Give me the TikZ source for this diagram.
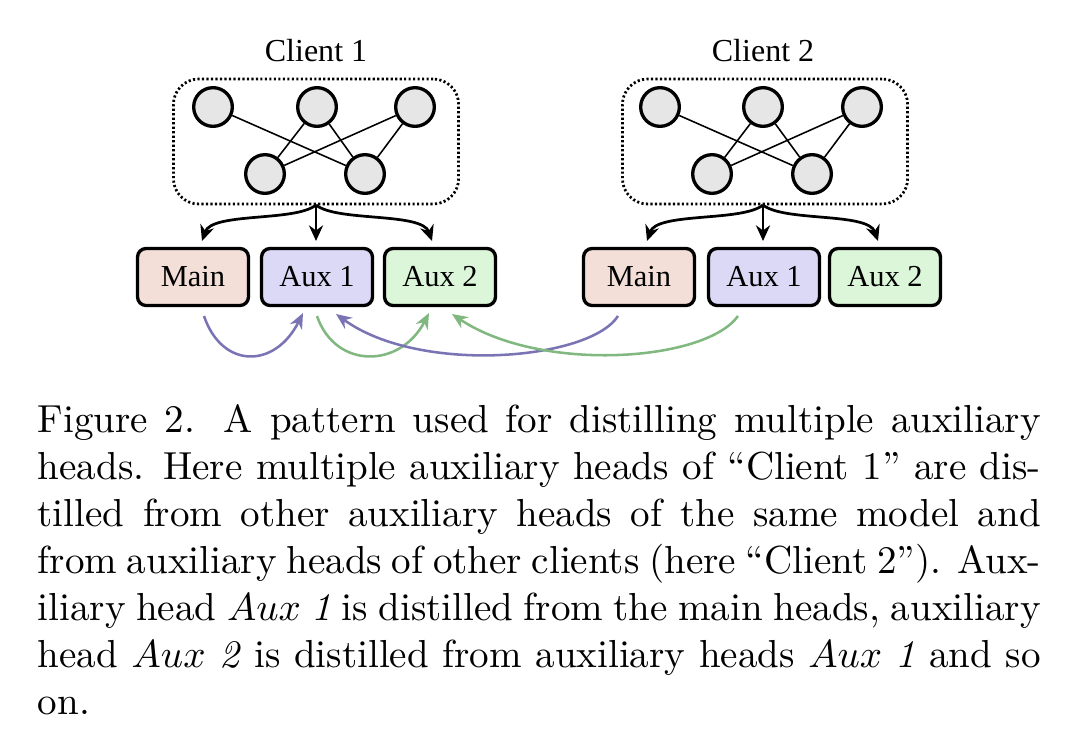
\documentclass[tikz,border=0pt]{standalone}
\usepackage{fontspec}
\newfontfamily\diagfont{Liberation Serif}
\usetikzlibrary{arrows.meta}
\definecolor{mainfill}{HTML}{F3DFD8}
\definecolor{auxafill}{HTML}{DCD9F6}
\definecolor{auxbfill}{HTML}{DCF6D9}
\definecolor{purpline}{HTML}{7A74B4}
\definecolor{greenline}{HTML}{80B880}
\definecolor{neuronfill}{HTML}{E6E6E6}
\tikzset{
  neuron/.style={circle, draw=black, line width=0.85pt, fill=neuronfill, minimum size=9.9pt, inner sep=0pt},
  synapse/.style={line width=0.4pt, black},
  group/.style={draw=black, line width=0.7pt, dash pattern=on 0.55pt off 0.6pt, rounded corners=6.5pt, minimum width=73pt, minimum height=32pt, inner sep=0pt},
  head/.style={draw=black, line width=0.85pt, rounded corners=2.2pt, minimum width=28.4pt, minimum height=14.6pt, inner sep=0pt, font=\diagfont\fontsize{7.8}{9}\selectfont},
  clientlabel/.style={anchor=base, inner sep=0pt, font=\diagfont\fontsize{8.2}{9.8}\selectfont},
  feed/.style={line width=0.7pt, -{Stealth[length=4pt,width=3.6pt]}},
  distP/.style={line width=0.65pt, purpline, -{Stealth[length=4pt,width=3.4pt]}},
  distG/.style={line width=0.65pt, greenline, -{Stealth[length=4pt,width=3.4pt]}},
  capline/.style={anchor=base west, inner sep=0pt, font=\fontsize{10}{12}\selectfont}
}
\newlength{\capw}
\setlength{\capw}{256.8pt}
\begin{document}
\begin{tikzpicture}[x=0.256pt, y=-0.256pt]
\useasboundingbox (0,0) rectangle (1080,754);

% ---------- Client 1 ----------
\node[clientlabel] (c1lab) at (316,61) {Client 1};
\node[group] (g1) at (316,141.5) {};
\node[neuron] (a1) at (213,107) {};
\node[neuron] (a2) at (317,107) {};
\node[neuron] (a3) at (415,107) {};
\node[neuron] (b1) at (265,174) {};
\node[neuron] (b2) at (365,174) {};
\draw[synapse] (a1) -- (b2);
\draw[synapse] (a2) -- (b1);
\draw[synapse] (a2) -- (b2);
\draw[synapse] (a3) -- (b1);
\draw[synapse] (a3) -- (b2);
\node[head, fill=mainfill] (m1) at (193,277) {Main};
\node[head, fill=auxafill] (x1) at (317,277) {Aux 1};
\node[head, fill=auxbfill] (y1) at (440,277) {Aux 2};
\coordinate (s1) at (316,205);
\coordinate (t1m) at (202,241);
\coordinate (t1x) at (316,241);
\coordinate (t1y) at (432,241);
\draw[feed] (s1) .. controls (295,222) and (212,212) .. (t1m);
\draw[feed] (s1) -- (t1x);
\draw[feed] (s1) .. controls (337,222) and (422,212) .. (t1y);

% ---------- Client 2 ----------
\node[clientlabel] (c2lab) at (763,61) {Client 2};
\node[group] (g2) at (765,141.5) {};
\node[neuron] (d1) at (660,107) {};
\node[neuron] (d2) at (763,107) {};
\node[neuron] (d3) at (862,107) {};
\node[neuron] (e1) at (712,174) {};
\node[neuron] (e2) at (812,174) {};
\draw[synapse] (d1) -- (e2);
\draw[synapse] (d2) -- (e1);
\draw[synapse] (d2) -- (e2);
\draw[synapse] (d3) -- (e1);
\draw[synapse] (d3) -- (e2);
\node[head, fill=mainfill] (m2) at (639,277) {Main};
\node[head, fill=auxafill] (x2) at (764,277) {Aux 1};
\node[head, fill=auxbfill] (y2) at (885,277) {Aux 2};
\coordinate (s2) at (763,205);
\coordinate (t2m) at (647,241);
\coordinate (t2x) at (763,241);
\coordinate (t2y) at (878,241);
\draw[feed] (s2) .. controls (742,222) and (657,212) .. (t2m);
\draw[feed] (s2) -- (t2x);
\draw[feed] (s2) .. controls (784,222) and (868,212) .. (t2y);

% ---------- distillation arrows ----------
\coordinate (p1s) at (204,316);
\coordinate (p1e) at (303,313);
\coordinate (g1s) at (317,316);
\coordinate (g1e) at (429,313);
\coordinate (p2s) at (618,316);
\coordinate (p2e) at (336,314);
\coordinate (g2s) at (738,316);
\coordinate (g2e) at (452,314);
\draw[distP] (p1s) .. controls (222,369) and (275,369) .. (p1e);
\draw[distG] (g1s) .. controls (335,369) and (400,369) .. (g1e);
\draw[distP] (p2s) .. controls (590,360) and (420,375) .. (p2e);
\draw[distG] (g2s) .. controls (705,362) and (540,373) .. (g2e);

% ---------- caption ----------
\node[capline] (cap1) at (37,432) {\makebox[\capw][s]{Figure 2. A pattern used for distilling multiple auxiliary}};
\node[capline] (cap2) at (37,479) {\makebox[\capw][s]{heads. Here multiple auxiliary heads of “Client 1” are dis-}};
\node[capline] (cap3) at (37,526) {\makebox[\capw][s]{tilled from other auxiliary heads of the same model and}};
\node[capline] (cap4) at (37,573) {\makebox[\capw][s]{from auxiliary heads of other clients (here “Client 2”). Aux-}};
\node[capline] (cap5) at (37,620) {\makebox[\capw][s]{iliary head $Aux$ \textit{1} is distilled from the main heads, auxiliary}};
\node[capline] (cap6) at (37,667) {\makebox[\capw][s]{head $Aux$ \textit{2} is distilled from auxiliary heads $Aux$ \textit{1} and so}};
\node[capline] (cap7) at (37,714) {on.};
\end{tikzpicture}
\end{document}
